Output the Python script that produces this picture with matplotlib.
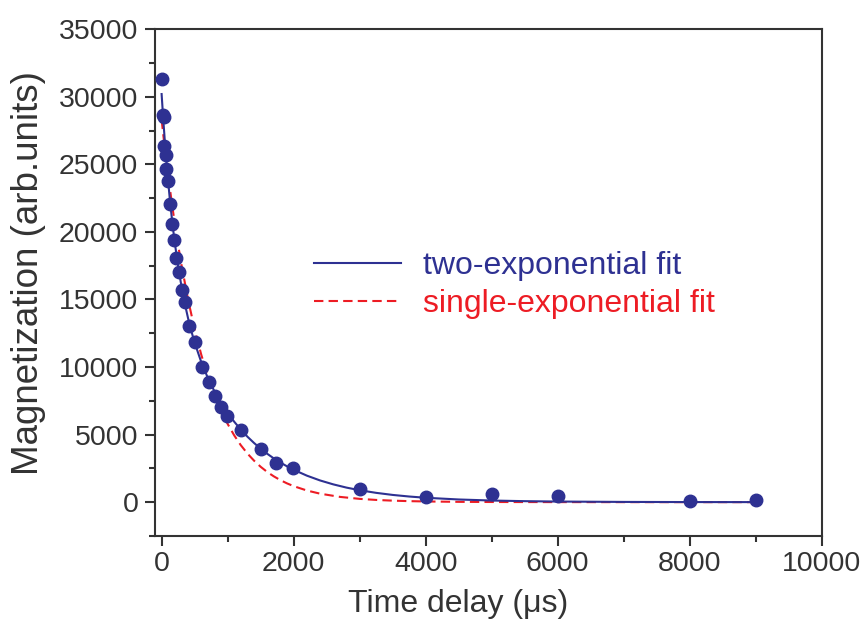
import numpy as np
import matplotlib
matplotlib.use('Agg')
import matplotlib.pyplot as plt
from matplotlib.ticker import MultipleLocator

plt.rcParams['font.family'] = ['Liberation Sans', 'DejaVu Sans']

t_data = [0, 15, 35, 40, 60, 70, 90, 125, 155, 190, 215, 260, 305, 360, 420,
          510, 610, 715, 810, 900, 995, 1200, 1500, 1740, 1995,
          3000, 4000, 5000, 6000, 8000, 9000]
m_data = [31290, 28650, 28480, 26350, 25690, 24670, 23760, 22040, 20560, 19400,
          18070, 17030, 15670, 14780, 13040, 11880, 9985, 8920, 7860, 7030,
          6380, 5325, 3920, 2930, 2560, 985, 370, 615, 445, 120, 190]

# two-exponential fit curve
t_fit2 = [0, 25, 50, 75, 100, 125, 150, 175, 200, 250, 300, 350, 400, 450, 500,
          600, 700, 800, 900, 1000, 1100, 1200, 1300, 1400, 1500, 1600, 1700,
          1800, 1900, 2000, 2200, 2400, 2600, 2800, 3000, 3250, 3500, 3750,
          4000, 4500, 5000, 5500, 6000, 7000, 8000, 9000]
m_fit2 = [30200, 28320, 26620, 25080, 23670, 22390, 21230, 20160, 19180, 17460,
          15990, 14720, 13620, 12660, 11810, 10370, 9190, 8200, 7350, 6600,
          5950, 5366, 4843, 4378, 3957, 3579, 3234, 2926, 2648, 2395, 1961,
          1605, 1315, 1076, 881, 687, 534, 416, 324, 197, 119, 72, 44, 16, 6, 2]

# single-exponential fit curve
t_fit1 = [0, 25, 50, 75, 100, 150, 200, 250, 300, 400, 500, 600, 700, 800, 900,
          1000, 1100, 1200, 1300, 1400, 1500, 1600, 1700, 1800, 1900, 2000,
          2200, 2400, 2700, 3000, 3250, 3500, 3750, 4000, 4500, 5000, 6000,
          7000, 8000, 9000]
m_fit1 = [28300, 27200, 26140, 25120, 24150, 22300, 20600, 19030, 17580, 15000,
          12800, 10920, 9320, 7950, 6780, 5790, 4938, 4210, 3595, 3070, 2617,
          2230, 1906, 1625, 1387, 1183, 861, 627, 389, 242, 163, 110, 74, 50,
          22, 10, 2, 0, 0, 0]

navy = '#2E3192'
red = '#ED1C24'
grey = '#333333'

fig = plt.figure(figsize=(8.66, 6.21), dpi=100)
ax = fig.add_axes([0.179, 0.137, 0.770, 0.816])

ax.plot(t_fit1, m_fit1, color=red, lw=1.5, linestyle=(0, (4.5, 2.5)),
        label='single-exponential fit', zorder=2)
ax.plot(t_fit2, m_fit2, color=navy, lw=1.5, label='two-exponential fit', zorder=3)
ax.plot(t_data, m_data, 'o', color=navy, ms=9, zorder=4)

ax.set_xlim(-100, 10000)
ax.set_ylim(-2500, 35000)
ax.xaxis.set_major_locator(MultipleLocator(2000))
ax.xaxis.set_minor_locator(MultipleLocator(1000))
ax.yaxis.set_major_locator(MultipleLocator(5000))
ax.yaxis.set_minor_locator(MultipleLocator(2500))

for s in ax.spines.values():
    s.set_color(grey)
    s.set_linewidth(1.5)
ax.tick_params(which='major', direction='out', length=7, width=1.5, color=grey,
               labelsize=20.5, labelcolor=grey, top=False, right=False)
ax.tick_params(which='minor', direction='out', length=4, width=1.5, color=grey,
               top=False, right=False)
ax.tick_params(axis='y', which='major', pad=5)
ax.tick_params(axis='x', which='major', pad=4)

ax.set_xlabel('Time delay (μs)', fontsize=23, color=grey)
ax.xaxis.set_label_coords(0.454, -0.105)
ax.set_ylabel('Magnetization (arb.units)', fontsize=26.5, color=grey)
ax.yaxis.set_label_coords(-0.164, 0.519)

h, l = ax.get_legend_handles_labels()
leg = ax.legend([h[1], h[0]], [l[1], l[0]], loc='center left',
                bbox_to_anchor=(0.215, 0.495), frameon=False, fontsize=23,
                handlelength=2.7, handletextpad=0.7, labelspacing=0.25,
                borderpad=0, labelcolor=[navy, red])

fig.savefig('out.png', dpi=100)
